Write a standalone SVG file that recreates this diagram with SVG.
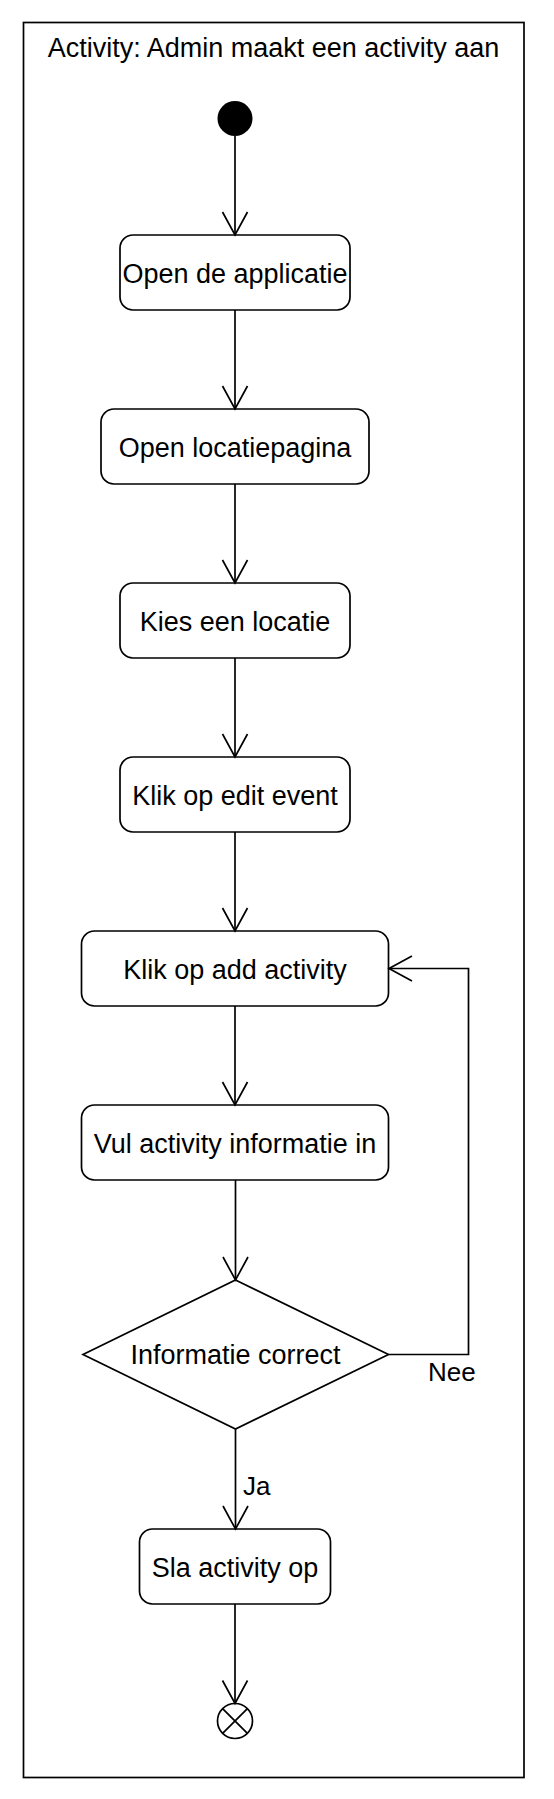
<svg xmlns="http://www.w3.org/2000/svg" width="554" height="1799" viewBox="0 0 554 1799">
<style>
.frame{fill:#fff;stroke:#000;stroke-width:1.7}
.act{fill:#fff;stroke:#000;stroke-width:1.7}
.t{font-family:"Liberation Sans",Arial,Helvetica,sans-serif;font-size:27px;fill:#000;text-anchor:middle}
.lbl{font-family:"Liberation Sans",Arial,Helvetica,sans-serif;font-size:26px;fill:#000}
.edge{fill:none;stroke:#000;stroke-width:1.7}
</style>
<defs>
<marker id="open" markerUnits="userSpaceOnUse" markerWidth="40" markerHeight="40" viewBox="-30 -20 40 40" refX="0" refY="0" orient="auto" overflow="visible">
<path d="M-23,-12.5 L0,0 L-23,12.5" fill="none" stroke="#000" stroke-width="1.7"/>
</marker>
</defs>
<rect width="554" height="1799" fill="#fff"/>
<g id="frame">
<rect class="frame" x="23.5" y="22.5" width="500.5" height="1755"/>
<text class="t" x="273.5" y="57">Activity: Admin maakt een activity aan</text>
</g>
<g id="start"><circle cx="235" cy="118.5" r="17.5" fill="#000"/></g>
<g id="n1"><rect class="act" x="120" y="235" width="230" height="75" rx="13"/><text class="t" x="235" y="282.5">Open de applicatie</text></g>
<g id="n2"><rect class="act" x="101" y="409" width="268" height="75" rx="13"/><text class="t" x="235" y="456.5">Open locatiepagina</text></g>
<g id="n3"><rect class="act" x="120" y="583" width="230" height="75" rx="13"/><text class="t" x="235" y="630.5">Kies een locatie</text></g>
<g id="n4"><rect class="act" x="120" y="757" width="230" height="75" rx="13"/><text class="t" x="235" y="804.5">Klik op edit event</text></g>
<g id="n5"><rect class="act" x="81.5" y="931" width="307" height="75" rx="13"/><text class="t" x="235" y="978.5">Klik op add activity</text></g>
<g id="n6"><rect class="act" x="81.5" y="1105" width="307" height="75" rx="13"/><text class="t" x="235" y="1152.5">Vul activity informatie in</text></g>
<g id="decision"><polygon class="act" points="235.5,1280 388.5,1354.5 235.5,1429 83,1354.5"/><text class="t" x="235.5" y="1364">Informatie correct</text></g>
<g id="n7"><rect class="act" x="139.5" y="1529" width="191" height="75" rx="13"/><text class="t" x="235" y="1576.5">Sla activity op</text></g>
<g id="end"><circle class="act" cx="235" cy="1721" r="17.5"/><path class="edge" d="M222.6,1708.6 L247.4,1733.4 M247.4,1708.6 L222.6,1733.4"/></g>
<g id="connectors">
<path class="edge" marker-end="url(#open)" d="M235,136 L235,235"/>
<path class="edge" marker-end="url(#open)" d="M235,310 L235,409"/>
<path class="edge" marker-end="url(#open)" d="M235,484 L235,583"/>
<path class="edge" marker-end="url(#open)" d="M235,658 L235,757"/>
<path class="edge" marker-end="url(#open)" d="M235,832 L235,931"/>
<path class="edge" marker-end="url(#open)" d="M235,1006 L235,1105"/>
<path class="edge" marker-end="url(#open)" d="M235.5,1180 L235.5,1280"/>
<path class="edge" marker-end="url(#open)" d="M235.5,1429 L235.5,1529"/>
<path class="edge" marker-end="url(#open)" d="M235,1604 L235,1703.5"/>
<path class="edge" marker-end="url(#open)" d="M388.5,1354.5 L468.5,1354.5 L468.5,968.5 L389,968.5"/>
<text class="lbl" x="243" y="1495">Ja</text>
<text class="lbl" x="428" y="1381">Nee</text>
</g>
</svg>
